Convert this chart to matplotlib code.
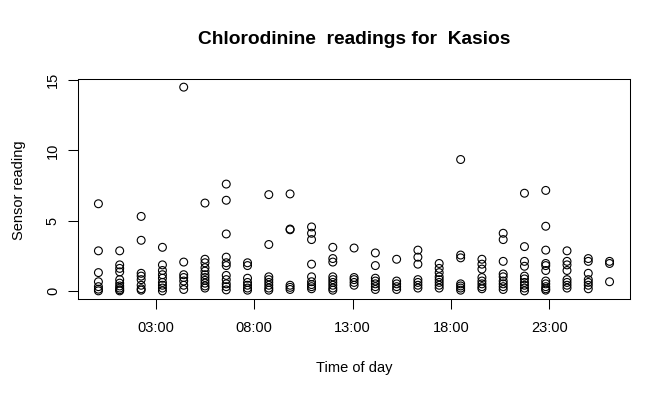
import matplotlib
matplotlib.use('Agg')
import matplotlib.pyplot as plt

plt.rcParams['font.family'] = ['Liberation Sans', 'DejaVu Sans']

# time of day (hours) for each reading column
hours = [0.10, 1.18, 2.27, 3.35, 4.43, 5.51, 6.59, 7.67, 8.75, 9.83, 10.92, 12.00,
         13.08, 14.16, 15.24, 16.32, 17.40, 18.49, 19.57, 20.65, 21.73, 22.81, 23.89,
         24.97, 26.05]

# sensor readings per column
readings = [
    [6.2, 2.85, 1.3, 0.65, 0.3, 0.12, 0.0],
    [2.85, 1.85, 1.6, 1.35, 0.8, 0.55, 0.35, 0.2, 0.08, 0.0],
    [5.3, 3.6, 1.25, 1.05, 0.8, 0.4, 0.15, 0.05],
    [3.1, 1.85, 1.45, 1.15, 0.9, 0.6, 0.4, 0.2, 0.0],
    [14.5, 2.05, 1.15, 0.95, 0.7, 0.4, 0.1],
    [6.25, 2.25, 2.0, 1.65, 1.4, 1.15, 0.95, 0.75, 0.55, 0.35, 0.2],
    [7.6, 6.45, 4.05, 2.4, 2.0, 1.8, 1.1, 0.8, 0.5, 0.3, 0.07],
    [2.0, 1.8, 0.9, 0.6, 0.4, 0.2, 0.05],
    [6.85, 3.3, 1.0, 0.8, 0.6, 0.4, 0.2, 0.05],
    [6.9, 4.4, 4.35, 0.4, 0.25, 0.1],
    [4.55, 4.1, 3.65, 1.9, 1.0, 0.65, 0.45, 0.3, 0.15],
    [3.1, 2.3, 2.05, 1.0, 0.8, 0.6, 0.4, 0.2, 0.05],
    [3.05, 0.95, 0.8, 0.6, 0.4],
    [2.7, 1.8, 0.9, 0.7, 0.5, 0.3, 0.1],
    [2.25, 0.7, 0.5, 0.3, 0.1],
    [2.9, 2.4, 1.9, 0.8, 0.6, 0.4, 0.2],
    [1.95, 1.6, 1.3, 1.0, 0.8, 0.6, 0.4, 0.2],
    [9.35, 2.55, 2.35, 0.5, 0.35, 0.2, 0.05],
    [2.25, 1.9, 1.55, 0.95, 0.7, 0.5, 0.3, 0.15],
    [4.1, 3.65, 2.1, 1.2, 1.0, 0.7, 0.5, 0.3, 0.1],
    [6.95, 3.15, 2.1, 1.75, 1.05, 0.85, 0.6, 0.4, 0.2, 0.0],
    [7.15, 4.6, 2.9, 1.95, 1.8, 1.45, 0.7, 0.5, 0.3, 0.15, 0.05],
    [2.85, 2.1, 1.85, 1.45, 0.8, 0.6, 0.4, 0.2],
    [2.3, 2.1, 1.25, 0.8, 0.6, 0.4, 0.15],
    [2.1, 1.95, 0.65],
]

tick_hours = [3, 8, 13, 18, 23]
tick_labels = ['03:00', '08:00', '13:00', '18:00', '23:00']
y_ticks = [0, 5, 10, 15]

xs = []
ys = []
for h, vals in zip(hours, readings):
    for v in vals:
        xs.append(h)
        ys.append(v)

fig = plt.figure(figsize=(6.71, 3.98), dpi=100)
ax = fig.add_axes([0.1162, 0.2487, 0.8227, 0.5528])

ax.scatter(xs, ys, s=32, facecolors='none', edgecolors='black', linewidths=0.8)

# R style 4% padding
xr = max(xs) - min(xs)
yr = max(ys) - min(ys)
ax.set_xlim(min(xs) - 0.04 * xr, max(xs) + 0.04 * xr)
ax.set_ylim(min(ys) - 0.04 * yr, max(ys) + 0.04 * yr)

ax.set_xticks(tick_hours)
ax.set_xticklabels(tick_labels)
ax.set_yticks(y_ticks)
ax.set_yticklabels([str(t) for t in y_ticks], rotation=90, va='center')
ax.tick_params(axis='both', length=7, width=0.75, labelsize=10.5, color='black')
ax.tick_params(axis='x', pad=9)
ax.tick_params(axis='y', pad=6)

for sp in ax.spines.values():
    sp.set_linewidth(0.75)
    sp.set_color('black')

fig.text(0.5 * (0.1162 + 0.9389), 1 - 40 / 398, 'Chlorodinine  readings for  Kasios',
         ha='center', va='center', fontsize=13.8, fontweight='bold')
fig.text(0.5 * (0.1162 + 0.9389), 1 - 368 / 398, 'Time of day',
         ha='center', va='center', fontsize=10.5)
fig.text(19 / 671, 1 - 190 / 398, 'Sensor reading',
         ha='center', va='center', fontsize=10.5, rotation=90)

fig.savefig('out.png', dpi=100)
